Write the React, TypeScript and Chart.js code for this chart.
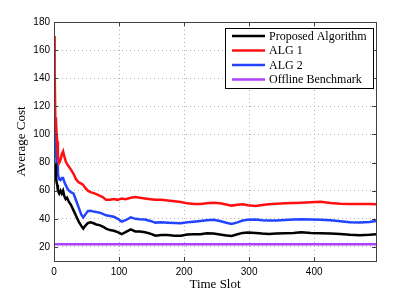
import React, { useEffect, useRef } from "react";
import { Chart, registerables } from "chart.js";

Chart.register(...registerables);

const timeSlots = [0, 1, 2, 3, 4, 5, 6, 8, 10, 12, 14, 16, 18, 20, 23, 26, 30, 34, 38, 42, 45, 48, 52, 56, 60, 65, 70, 75, 80, 86, 92, 98, 104, 110, 118, 125, 132, 140, 148, 156, 165, 175, 185, 195, 205, 215, 225, 235, 245, 255, 265, 273, 282, 290, 298, 310, 320, 330, 342, 355, 368, 380, 395, 410, 425, 440, 455, 470, 485, 495];

const proposed = [80, 72, 80, 70, 66, 64, 60, 58, 60, 58, 60, 56, 54, 55, 52, 50, 46, 42, 38, 35, 33, 35, 37, 37.5, 37, 36, 35.5, 34.5, 33, 32, 31.5, 30.5, 29.2, 30.5, 32.5, 31, 31, 30.5, 29.5, 28, 28.5, 28.5, 28, 28, 28.8, 29, 29, 29.7, 29.5, 28.8, 28.2, 27.8, 29, 30, 30.2, 30, 29.5, 29.2, 29.5, 29.8, 30, 30.4, 30, 29.8, 29.5, 29.2, 28.6, 28.3, 28.6, 29];

const alg1 = [170, 145, 112, 110, 100, 95, 84, 80, 82, 86, 88, 84, 81, 79, 77, 75, 72, 68, 66, 65, 64, 62, 60, 59, 58.5, 57.5, 56.5, 55.5, 53.5, 53.5, 54, 53.5, 54.5, 54, 55, 55.5, 55, 54.5, 54, 53.5, 53.5, 53, 52.5, 52, 51, 50.5, 50.6, 51, 51.5, 51, 50.2, 49.4, 50, 50.3, 49.6, 49.1, 49.8, 50.3, 50.8, 51, 51.2, 51.5, 51.8, 52.2, 51.3, 50.8, 50.6, 50.5, 50.5, 50.4];

const alg2 = [130, 110, 93, 90, 80, 78, 72, 68, 67.5, 69, 69, 66, 64, 62, 60, 59, 58, 53, 48, 43, 41, 43, 45.5, 45.8, 45.3, 44.8, 44.4, 43.5, 42.5, 42, 41.5, 40, 38, 39, 41, 40, 39.7, 39.5, 38.5, 37.3, 37.5, 37.2, 37, 36.8, 37.5, 38, 38.5, 39, 39.3, 38.5, 37.2, 36.3, 37.5, 38.8, 39.3, 39.5, 39, 38.8, 38.8, 39.2, 39.5, 39.7, 39.5, 39.3, 39, 38.3, 37.6, 37.3, 37.8, 38.5];

const offlineValue = 22;

const seriesNames = ["Proposed Algorithm", "ALG 1", "ALG 2", "Offline Benchmark"];
const seriesColors = ["#000000", "#ff1010", "#2244ff", "#b040ff"];

const xTicks = [0, 100, 200, 300, 400];
const yTicks = [20, 40, 60, 80, 100, 120, 140, 160, 180];

const toPoints = (vals: number[]) => timeSlots.map((x, i) => ({ x, y: vals[i] }));

const framePlugin = {
  id: "framePlugin",
  afterDraw(chart: any) {
    const { ctx, chartArea: a, scales } = chart;
    const xs = scales.x;
    const ys = scales.y;
    ctx.save();
    ctx.strokeStyle = "#404040";
    ctx.lineWidth = 1;
    ctx.strokeRect(Math.round(a.left) + 0.5, Math.round(a.top) + 0.5, Math.round(a.right - a.left), Math.round(a.bottom - a.top));
    ctx.beginPath();
    const tl = 4;
    xTicks.forEach((v) => {
      const px = Math.round(xs.getPixelForValue(v)) + 0.5;
      ctx.moveTo(px, a.bottom);
      ctx.lineTo(px, a.bottom - tl);
      ctx.moveTo(px, a.top);
      ctx.lineTo(px, a.top + tl);
    });
    yTicks.forEach((v) => {
      const py = Math.round(ys.getPixelForValue(v)) + 0.5;
      ctx.moveTo(a.left, py);
      ctx.lineTo(a.left + tl, py);
      ctx.moveTo(a.right, py);
      ctx.lineTo(a.right - tl, py);
    });
    ctx.stroke();

    // legend
    const bx = 225.5, by = 28.5, bw = 148, bh = 60;
    ctx.fillStyle = "#ffffff";
    ctx.fillRect(bx, by, bw, bh);
    ctx.strokeStyle = "#000000";
    ctx.strokeRect(bx, by, bw, bh);
    const rows = [36, 50.5, 65, 79.5];
    ctx.font = "12px 'Liberation Serif', 'Times New Roman', serif";
    ctx.textBaseline = "middle";
    ctx.textAlign = "left";
    seriesNames.forEach((name, i) => {
      ctx.strokeStyle = seriesColors[i];
      ctx.lineWidth = 2.5;
      ctx.beginPath();
      ctx.moveTo(232, rows[i]);
      ctx.lineTo(265, rows[i]);
      ctx.stroke();
      ctx.fillStyle = "#000000";
      ctx.fillText(name, 269, rows[i] + 0.5);
    });
    ctx.restore();
  },
};

export default function App() {
  const ref = useRef<HTMLCanvasElement>(null);
  useEffect(() => {
    if (!ref.current) return;
    const chart = new Chart(ref.current, {
      type: "line",
      data: {
        datasets: [
          { label: seriesNames[0], data: toPoints(proposed), borderColor: seriesColors[0], borderWidth: 2.5 },
          { label: seriesNames[1], data: toPoints(alg1), borderColor: seriesColors[1], borderWidth: 2.5 },
          { label: seriesNames[2], data: toPoints(alg2), borderColor: seriesColors[2], borderWidth: 2.5 },
          { label: seriesNames[3], data: timeSlots.map((x) => ({ x, y: offlineValue })), borderColor: seriesColors[3], borderWidth: 2.5 },
        ],
      },
      options: {
        animation: false,
        responsive: false,
        devicePixelRatio: 1,
        layout: { padding: { left: 0, top: 22, right: 39, bottom: 0 } },
        elements: { point: { radius: 0 }, line: { tension: 0 } },
        plugins: { legend: { display: false }, tooltip: { enabled: false } },
        scales: {
          x: {
            type: "linear",
            min: 0,
            max: 495,
            afterBuildTicks: (s: any) => {
              s.ticks = xTicks.map((v) => ({ value: v }));
            },
            afterFit: (s: any) => {
              s.height = 33;
            },
            ticks: { color: "#000", font: { family: "'Liberation Sans', Arial, sans-serif", size: 10 }, padding: 5, maxRotation: 0 },
            grid: { color: "#b0b0b0", drawTicks: false, lineWidth: 1 },
            border: { display: false, dash: [1, 3] },
            title: { display: true, text: "Time Slot", color: "#000", font: { family: "'Liberation Serif', 'Times New Roman', serif", size: 13 }, padding: { top: 0, bottom: 2 } },
          },
          y: {
            min: 10,
            max: 180,
            afterBuildTicks: (s: any) => {
              s.ticks = yTicks.map((v) => ({ value: v }));
            },
            afterFit: (s: any) => {
              s.width = 54;
            },
            ticks: { color: "#000", font: { family: "'Liberation Sans', Arial, sans-serif", size: 10 }, padding: 4 },
            grid: { color: "#b0b0b0", drawTicks: false, lineWidth: 1 },
            border: { display: false, dash: [1, 3] },
            title: { display: true, text: "Average Cost", color: "#000", font: { family: "'Liberation Serif', 'Times New Roman', serif", size: 13 }, padding: { top: 14, bottom: 0 } },
          },
        },
      },
      plugins: [framePlugin],
    } as any);
    return () => chart.destroy();
  }, []);
  return (
    <div style={{ position: "fixed", left: 0, top: 0, width: 415, height: 294, background: "#fff" }}>
      <canvas ref={ref} width={415} height={294} style={{ display: "block" }} />
    </div>
  );
}
